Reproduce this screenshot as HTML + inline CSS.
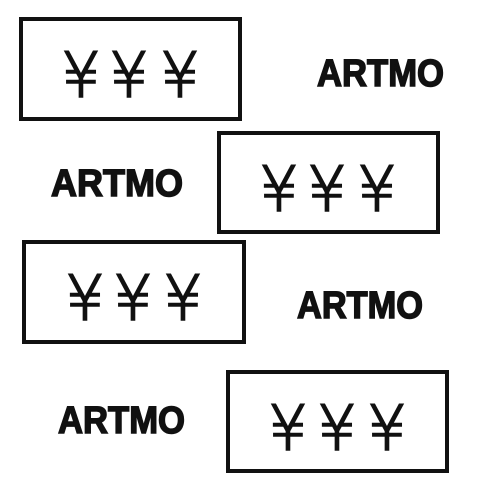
<!DOCTYPE html>
<html><head><meta charset="utf-8"><style>body{margin:0;background:#fff}svg{display:block}</style></head>
<body>
<svg width="500" height="500" viewBox="0 0 500 500">
<rect width="500" height="500" fill="#fff"/>
<g fill="none" stroke="#111" stroke-width="4">
<rect x="21" y="19" width="219" height="100"/>
<rect x="219" y="133" width="219" height="99"/>
<rect x="24" y="242" width="220" height="100"/>
<rect x="228" y="372" width="219" height="99"/>
</g>
<g font-family="DejaVu Sans, Liberation Sans, sans-serif" font-weight="200" font-size="62" fill="#111" stroke="#111" stroke-width="1.6" text-anchor="middle">
<text x="81" y="97">¥</text>
<text x="129" y="97">¥</text>
<text x="180" y="97">¥</text>
<text x="279" y="211">¥</text>
<text x="327" y="211">¥</text>
<text x="377" y="211">¥</text>
<text x="85" y="320">¥</text>
<text x="133" y="320">¥</text>
<text x="183" y="320">¥</text>
<text x="288" y="450">¥</text>
<text x="337" y="450">¥</text>
<text x="387" y="450">¥</text>
</g>
<g font-family="Liberation Sans, sans-serif" font-size="38" font-weight="bold" fill="#111" stroke="#111" stroke-width="1.5">
<text x="317" y="86" textLength="127" lengthAdjust="spacingAndGlyphs">ARTMO</text>
<text x="51" y="196" textLength="132" lengthAdjust="spacingAndGlyphs">ARTMO</text>
<text x="297" y="318" textLength="126" lengthAdjust="spacingAndGlyphs">ARTMO</text>
<text x="58" y="433" textLength="127" lengthAdjust="spacingAndGlyphs">ARTMO</text>
</g>
</svg>
</body></html>
